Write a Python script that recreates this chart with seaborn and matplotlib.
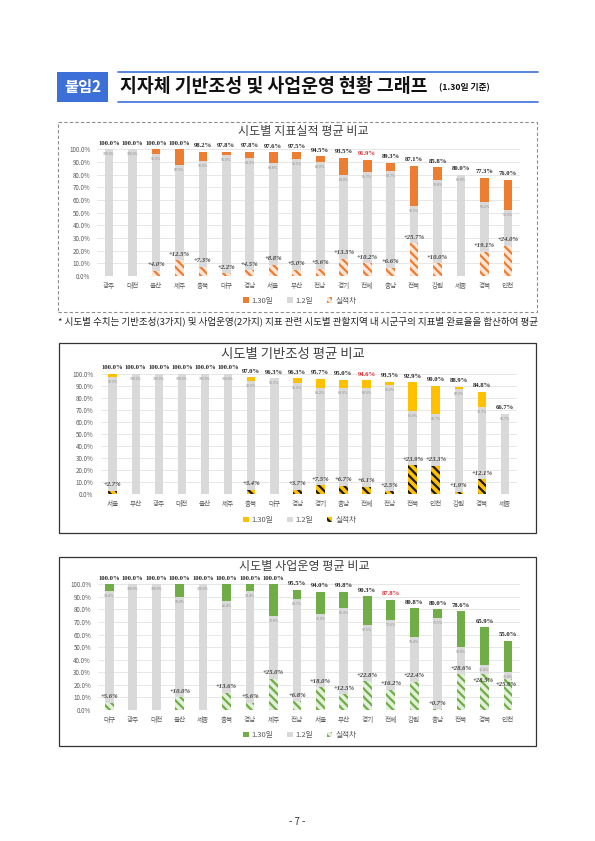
import matplotlib
matplotlib.use("Agg")
import pandas as pd
import seaborn as sns
import matplotlib.pyplot as plt
from matplotlib.patches import Patch, Rectangle
from matplotlib.lines import Line2D

# 시도별 지표실적 평균 비교
regions_total = ["광주", "대전", "울산", "제주", "충북", "대구", "경남", "서울", "부산",
                 "전남", "경기", "전체", "충남", "전북", "강원", "세종", "경북", "인천"]
total_130 = [100.0, 100.0, 100.0, 100.0, 98.2, 97.8, 97.8, 97.6, 97.5,
             94.5, 93.5, 91.9, 89.3, 87.1, 85.8, 80.0, 77.3, 76.0]
total_12 = [100.0, 100.0, 96.0, 87.5, 90.9, 95.6, 93.3, 88.8, 92.5,
            89.9, 80.0, 81.7, 82.7, 55.5, 75.8, 80.0, 58.2, 52.0]
total_diff = [0.0, 0.0, 4.0, 12.5, 7.3, 2.2, 4.5, 8.8, 5.0,
              5.6, 13.5, 10.2, 6.6, 25.7, 10.0, 0.0, 19.1, 24.0]

# 시도별 기반조성 평균 비교
regions_base = ["서울", "부산", "광주", "대전", "울산", "제주", "충북", "대구", "경남",
                "경기", "충남", "전체", "전남", "전북", "인천", "강원", "경북", "세종"]
base_130 = [100.0, 100.0, 100.0, 100.0, 100.0, 100.0, 97.0, 96.3, 96.3,
            95.7, 95.0, 94.6, 93.5, 92.9, 90.0, 88.9, 84.8, 66.7]
base_12 = [97.3, 100.0, 100.0, 100.0, 100.0, 100.0, 93.6, 96.3, 92.6,
           88.2, 88.3, 88.5, 91.0, 69.0, 66.7, 87.0, 72.7, 66.7]
base_diff = [2.7, 0.0, 0.0, 0.0, 0.0, 0.0, 3.4, 0.0, 3.7,
             7.5, 6.7, 6.1, 2.5, 23.9, 23.3, 1.9, 12.1, 0.0]

# 시도별 사업운영 평균 비교
regions_biz = ["대구", "광주", "대전", "울산", "세종", "충북", "경남", "제주", "전남",
               "서울", "부산", "경기", "전체", "강원", "충남", "전북", "경북", "인천"]
biz_130 = [100.0, 100.0, 100.0, 100.0, 100.0, 100.0, 100.0, 100.0, 95.5,
           94.0, 93.8, 90.3, 87.8, 80.8, 80.0, 78.6, 65.9, 55.0]
biz_12 = [94.4, 100.0, 100.0, 90.0, 100.0, 86.4, 94.4, 75.0, 88.7,
          76.0, 81.3, 67.5, 71.6, 58.4, 73.5, 50.0, 35.8, 30.0]
biz_diff = [5.6, 0.0, 0.0, 10.0, 0.0, 13.6, 5.6, 25.0, 6.8,
            18.0, 12.5, 22.8, 16.2, 22.4, 0.7, 28.6, 28.5, 25.0]

sns.set_style("white")
plt.rcParams["font.family"] = ["Noto Sans CJK KR", "DejaVu Sans"]
plt.rcParams["hatch.linewidth"] = 1.6

W, H = 595, 841
fig = plt.figure(figsize=(W / 100, H / 100), dpi=100)
HATCH = "\\\\\\\\"
GRAY = "#D9D9D9"


def fx(x):
    return x / W


def fy(y):
    return 1 - y / H


def draw_chart(regions, v130, v12, vdiff, bar_color, hatch_face, hatch_color, title,
               axes_px, box, title_xy, title_size, legend_y, ytick_pad, box_style):
    left, right, top, bottom = axes_px
    ax = fig.add_axes([fx(left), fy(bottom), (right - left) / W, (bottom - top) / H])
    df = pd.DataFrame({"region": regions, "d130": v130, "d12": v12, "diff": vdiff})

    # 1.30일 전체 높이 -> 1.2일 회색으로 아래를 덮음 -> 실적차 빗금
    sns.barplot(data=df, x="region", y="d130", color=bar_color, saturation=1,
                width=0.37, linewidth=0, errorbar=None, ax=ax)
    sns.barplot(data=df, x="region", y="d12", color=GRAY, saturation=1,
                width=0.37, linewidth=0, errorbar=None, ax=ax)
    sns.barplot(data=df, x="region", y="diff", color=hatch_face, saturation=1,
                width=0.37, linewidth=0, errorbar=None, ax=ax)
    for bar in ax.containers[-1]:
        bar.set_hatch(HATCH)
        bar.set_edgecolor(hatch_color)
        bar.set_linewidth(0)

    ax.set_xlim(-0.5, len(regions) - 0.5)
    ax.set_ylim(0, 100)
    ax.set_yticks(range(0, 101, 10))
    ax.set_yticklabels([f"{v:.1f}%" for v in range(0, 101, 10)])
    ax.set_xlabel("")
    ax.set_ylabel("")
    ax.yaxis.grid(True, color="#E3E3E3", lw=0.6)
    ax.set_axisbelow(True)
    sns.despine(ax=ax, left=True, bottom=True)
    ax.tick_params(axis="y", length=0, labelsize=4.5, colors="#595959", pad=ytick_pad)
    ax.tick_params(axis="x", length=0, labelsize=4.8, colors="#595959", pad=4.5)

    for i, r in enumerate(regions):
        c = "#E0282E" if r == "전체" else "#262626"
        ax.annotate(f"{v130[i]:.1f}%", (i, v130[i]), xytext=(0, 4.4),
                    textcoords="offset points", ha="center", va="center",
                    fontsize=4.8, fontweight="bold", family="Liberation Serif", color=c)
        ax.annotate(f"{v12[i]:.1f}%", (i, v12[i]), xytext=(0, -3.6),
                    textcoords="offset points", ha="center", va="center",
                    fontsize=2.6, color="#8C8C8C")
        if vdiff[i] > 0:
            # 회색 라벨과 붙는 경우 빗금 막대 안쪽으로
            off = (-1, -4.2) if v12[i] - vdiff[i] < 12 else (0, 4.3)
            ax.annotate(f"+{vdiff[i]:.1f}%", (i, vdiff[i]), xytext=off,
                        textcoords="offset points", ha="center", va="center",
                        fontsize=4.8, fontweight="bold", style="italic",
                        family="Liberation Serif", color="#404040")

    fig.text(fx(title_xy[0]), fy(title_xy[1]), title, ha="center", va="center",
             fontsize=title_size, color="#404040")

    handles = [Patch(facecolor=bar_color, linewidth=0),
               Patch(facecolor=GRAY, linewidth=0),
               Patch(facecolor=hatch_face, edgecolor=hatch_color, hatch=HATCH, linewidth=0)]
    fig.legend(handles, ["1.30일", "1.2일", "실적차"], loc="center",
               bbox_to_anchor=(fx(300), fy(legend_y)), ncol=3, frameon=False,
               fontsize=5.5, handlelength=0.7, handleheight=0.7, handletextpad=0.4,
               columnspacing=1.8, labelcolor="#595959")

    x0, y0, x1, y1 = box
    fig.add_artist(Rectangle((fx(x0), fy(y1)), (x1 - x0) / W, (y1 - y0) / H,
                             transform=fig.transFigure, fill=False, **box_style))
    return ax


# 상단 제목
fig.add_artist(Rectangle((fx(57), fy(102)), 51 / W, 30 / H, transform=fig.transFigure,
                         facecolor="#3D6FD8", edgecolor="none"))
fig.text(fx(82.5), fy(87), "붙임2", ha="center", va="center", fontsize=11,
         fontweight="bold", color="white")
for yy in (72, 102):
    fig.add_artist(Line2D([fx(118), fx(538)], [fy(yy), fy(yy)], color="#3D6FD8",
                          lw=1.2, transform=fig.transFigure))
fig.text(fx(120), fy(87), "지자체 기반조성 및 사업운영 현황 그래프", ha="left", va="center",
         fontsize=13.2, fontweight="bold", color="#111111")
fig.text(fx(439), fy(88), "(1.30일 기준)", ha="left", va="center",
         fontsize=6.3, fontweight="bold", color="#111111")

draw_chart(regions_total, total_130, total_12, total_diff, "#ED7D31", "#FCE4D6", "#ED7D31",
           "시도별 지표실적 평균 비교", (97.3, 519.7, 149.3, 276), (58, 122, 537, 312),
           (303, 131), 8.7, 300.5, 5,
           dict(edgecolor="#8C8C8C", lw=0.8, ls=(0, (3, 2))))

fig.text(fx(58), fy(321), "* 시도별 수치는 기반조성(3가지) 및 사업운영(2가지) 지표 관련 시도별 "
         "관할지역 내 시군구의 지표별 완료율을 합산하여 평균", ha="left", va="center",
         fontsize=6.9, color="#262626")

draw_chart(regions_base, base_130, base_12, base_diff, "#FFC000", "#FFC000", "#1A1A1A",
           "시도별 기반조성 평균 비교", (101.2, 516.5, 373.7, 494), (59, 343, 536, 533),
           (293, 354), 9.6, 520, 5.8,
           dict(edgecolor="#333333", lw=0.9))

draw_chart(regions_biz, biz_130, biz_12, biz_diff, "#70AD47", "#E2EFDA", "#70AD47",
           "시도별 사업운영 평균 비교", (97.6, 519.7, 584.3, 710), (59, 557, 536, 746),
           (304, 566.5), 8.7, 735, 4.7,
           dict(edgecolor="#333333", lw=0.9))

fig.text(fx(297), fy(822), "- 7 -", ha="center", va="center", fontsize=7, color="#333333")

fig.savefig("out.png", dpi=100)
